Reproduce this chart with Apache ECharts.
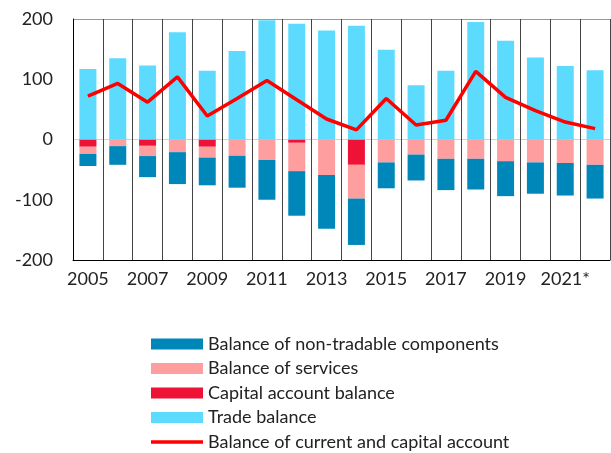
<!DOCTYPE html>
<html>
<head>
<meta charset="utf-8">
<script src="https://cdn.jsdelivr.net/npm/echarts@6/dist/echarts.min.js"></script>
<style>
  html, body { margin: 0; padding: 0; background: #fff; }
  #chart { width: 611px; height: 453px; }
</style>
</head>
<body>
<div id="chart"></div>
<script>
var years = ['2005', '2006', '2007', '2008', '2009', '2010', '2011', '2012', '2013',
  '2014', '2015', '2016', '2017', '2018', '2019', '2020', '2021*', '2022*'];

var nonTradable = [-20, -31, -35, -53, -46, -53, -66, -74, -89, -77, -43, -43, -52, -51, -58, -52, -54, -56];
var services = [-12, -11, -17, -21, -18, -27, -34, -47, -59, -56, -38, -25, -32, -32, -36, -38, -39, -42];
var capital = [-12, 0, -10.5, 0, -12, 0, 0, -5.5, 0, -42, 0, 0, 0, 0, 0, 0, 0, 0];
var trade = [117, 135, 123, 178, 114, 147, 198, 192, 181, 189, 149, 90, 114, 195, 164, 136, 122, 115];
var currentCapital = [72, 93, 62, 104, 39, 68, 98, 66, 34, 16, 68, 24, 32, 113, 70, 48, 29, 18];

var chart = echarts.init(document.getElementById('chart'), null, { renderer: 'canvas' });

// thin bar in the middle of the legend box, for the line series
var lineIcon = 'path://M0,0 L0.01,0 Z M0,3.8 L52,3.8 L52,7.2 L0,7.2 Z M52,11 L51.99,11 Z';

var option = {
  animation: false,
  textStyle: { fontFamily: 'Lato', color: '#222' },
  grid: { left: 73, right: 1, top: 19, bottom: 193 },
  legend: {
    orient: 'vertical',
    left: 146,
    top: 330,
    height: 130,
    itemWidth: 52,
    itemHeight: 11,
    itemGap: 6.5,
    textStyle: { fontSize: 18, color: '#222', lineHeight: 18, fontFamily: 'Lato' },
    data: [
      { name: 'Balance of non-tradable components', icon: 'rect' },
      { name: 'Balance of services', icon: 'rect' },
      { name: 'Capital account balance', icon: 'rect' },
      { name: 'Trade balance', icon: 'rect' },
      { name: 'Balance of current and capital account', icon: lineIcon }
    ]
  },
  xAxis: {
    type: 'category',
    data: years,
    position: 'bottom',
    axisLine: { onZero: false, lineStyle: { color: '#000', width: 1 } },
    axisTick: { show: false },
    axisLabel: { interval: 1, fontSize: 18, color: '#222', margin: 10 },
    splitLine: { show: true, interval: 0, lineStyle: { color: '#444', width: 1 } }
  },
  yAxis: {
    type: 'value',
    min: -200,
    max: 200,
    interval: 100,
    axisLine: { show: true, lineStyle: { color: '#000', width: 1 } },
    axisTick: { show: false },
    axisLabel: { fontSize: 18, color: '#222', margin: 20 },
    splitLine: {
      show: true,
      lineStyle: { color: ['transparent', 'transparent', '#d0d0d0', 'transparent', '#999'], width: 1 }
    }
  },
  series: [
    {
      name: 'Capital account balance',
      type: 'bar',
      stack: 'b',
      barWidth: 17,
      itemStyle: { color: '#EE1236' },
      data: capital
    },
    {
      name: 'Balance of services',
      type: 'bar',
      stack: 'b',
      barWidth: 17,
      itemStyle: { color: '#FF9E9E' },
      data: services
    },
    {
      name: 'Balance of non-tradable components',
      type: 'bar',
      stack: 'b',
      barWidth: 17,
      itemStyle: { color: '#0087B9' },
      data: nonTradable
    },
    {
      name: 'Trade balance',
      type: 'bar',
      stack: 'b',
      barWidth: 17,
      itemStyle: { color: '#5CDBFF' },
      data: trade
    },
    {
      name: 'Balance of current and capital account',
      type: 'line',
      symbol: 'none',
      lineStyle: { color: '#FF0000', width: 3.5 },
      itemStyle: { color: '#FF0000' },
      data: currentCapital,
      z: 5
    }
  ]
};

chart.setOption(option);
window.addEventListener('resize', chart.resize);
</script>
</body>
</html>
